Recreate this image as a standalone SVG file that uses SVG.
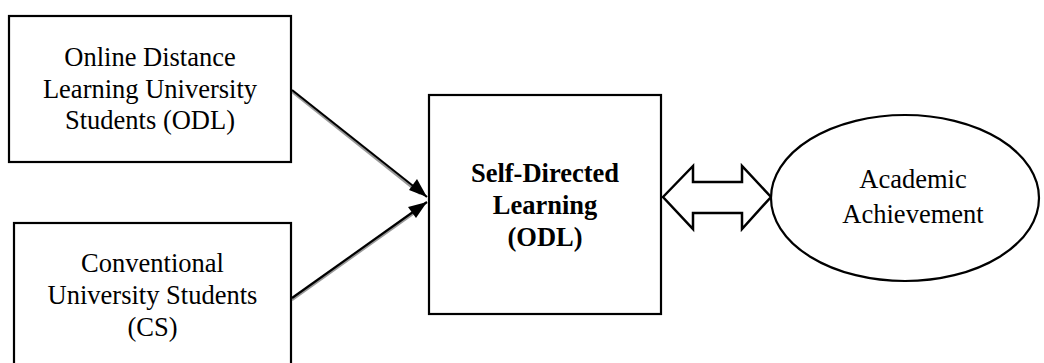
<svg xmlns="http://www.w3.org/2000/svg" width="1044" height="363" viewBox="0 0 1044 363">
<style>
.box{fill:#fff;stroke:#000;stroke-width:2.2}
.t{font-family:"Liberation Serif","Times New Roman",serif;font-size:26.5px;fill:#000;text-anchor:middle}
.b{font-weight:bold}
.ln{stroke:#000;stroke-width:2.2;fill:none}
.sh{stroke:#999;stroke-width:2.2;fill:none}
.head{fill:#000}
</style>
<g id="connectors">
<line class="sh" x1="292" y1="92" x2="420" y2="194"/>
<line class="ln" x1="292" y1="90" x2="427" y2="197"/>
<path class="head" d="M427,197 L409,190 L417,179 z"/>
<line class="sh" x1="292" y1="300" x2="420" y2="209"/>
<line class="ln" x1="292" y1="298" x2="427" y2="202"/>
<path class="head" d="M427,202 L416,218 L408,207 z"/>
<polygon id="double-arrow" points="663,197 693,166 693,182 742,182 742,166 771,197 742,229 742,213 693,213 693,229" fill="#fff" stroke="#000" stroke-width="2.5" stroke-linejoin="miter"/>
</g>
<g id="node-odl">
<rect class="box" x="9" y="16" width="282" height="146"/>
<text class="t" x="150" y="66">Online Distance</text>
<text class="t" x="150" y="98">Learning University</text>
<text class="t" x="150" y="129">Students (ODL)</text>
</g>
<g id="node-cs">
<rect class="box" x="14" y="223" width="277" height="150"/>
<text class="t" x="152.5" y="272">Conventional</text>
<text class="t" x="152.5" y="304">University Students</text>
<text class="t" x="152.5" y="336">(CS)</text>
</g>
<g id="node-sdl">
<rect class="box" x="429" y="95" width="232" height="219"/>
<text class="t b" x="545" y="182">Self-Directed</text>
<text class="t b" x="545" y="214">Learning</text>
<text class="t b" x="545" y="246">(ODL)</text>
</g>
<g id="node-achievement">
<ellipse class="box" cx="905" cy="198" rx="134" ry="83"/>
<text class="t" x="913" y="188">Academic</text>
<text class="t" x="913" y="223">Achievement</text>
</g>
</svg>
